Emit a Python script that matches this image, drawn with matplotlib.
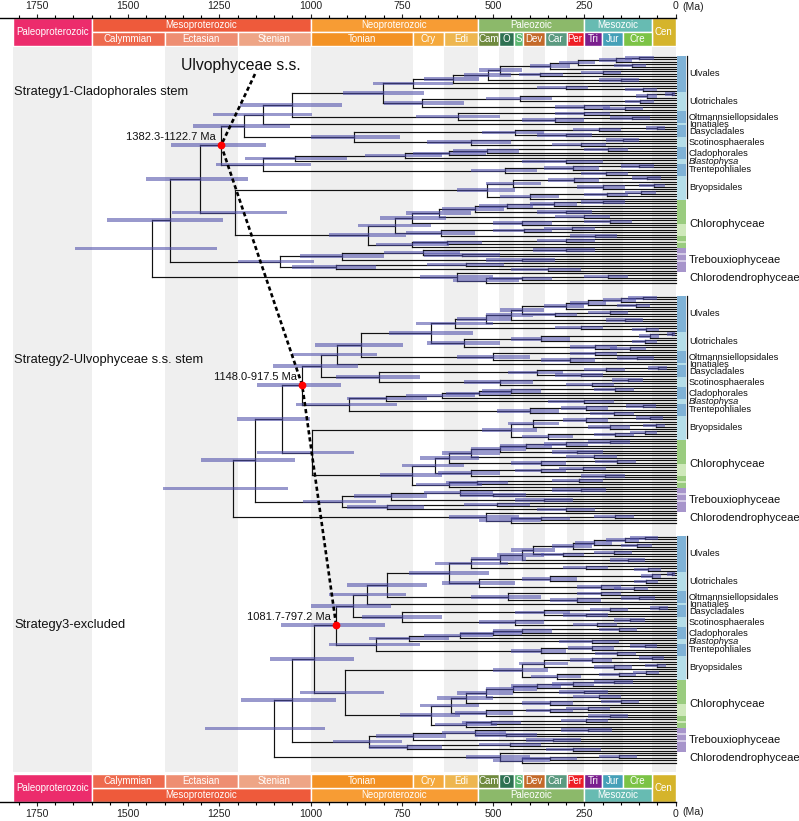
import re
import numpy as np
import matplotlib
matplotlib.use("Agg")
import matplotlib.pyplot as plt
from matplotlib.collections import LineCollection
from matplotlib.patches import Rectangle

plt.rcParams['font.family'] = ['Liberation Sans', 'DejaVu Sans']

# ------------------------------------------------------------------ data
STRATEGY_LABELS = ["Strategy1-Cladophorales stem", "Strategy2-Ulvophyceae s.s. stem", "Strategy3-excluded"]
RED_LABELS = ["1382.3-1122.7 Ma", "1148.0-917.5 Ma", "1081.7-797.2 Ma"]

# backbone per strategy: node label = age/HPDlow/HPDhigh (Ma), R = Ulvophyceae s.s. node
BACKBONE = [
    "((((((((ULV,ULO)802/690/910,OLT)1052/913/1193,IGN)1130/996/1267,(DAS,SCO)880/755/1000)1182/1056/1322,((CLA,BLA)1043/900/1180,TRE)1130/1000/1260)1245/1122.7/1382.3/R,(BRY,CHL)1207/1065/1380)1302/1171/1450,TRB)1385/1240/1558,CHD)1434/1257/1645",
    "((((((((ULV,ULO)670/555/785,OLT)863/747/988,IGN)929/819/1052,(DAS,SCO)812/700/930)972/870/1102,((CLA,BLA)793/680/900,TRE)894/764/1040)1023/917.5/1148.0/R,(BRY,CHL)995/880/1146)1077/1002/1201,TRB)1152/1043/1301,CHD)1212/1062/1405",
    "((((((((ULV,ULO)620/510/730,OLT)790/680/900,IGN)845/740/950,(DAS,SCO)750/640/860)885/780/1000,((CLA,BLA)730/620/840,TRE)820/700/950)930/797.2/1081.7/R,(BRY,CHL)905/800/1030)990/880/1110,TRB)1050/930/1190,CHD)1100/960/1290",
]

ULVALES = [
    "((((((((t,t)100/60/140,t)164/120/210,(t,t)120/80/170)267/220/320,t)344/290/400,((t,t)200/150/260,t)371/310/430)481/420/540,(t,t)150/100/210)514/450/580,t)610/540/690,(t,(t,t)90/50/140)300/240/380)720/610/830",
    "((((((((t,t)90/50/130,t)150/110/200,(t,t)110/70/160)240/190/290,t)300/250/360,((t,t)180/130/240,t)330/270/390)420/360/480,(t,t)140/90/190)450/390/520,t)520/450/600,(t,(t,t)80/45/120)260/200/330)604/500/710",
    "((((((((t,t)85/48/125,t)140/100/190,(t,t)105/65/150)225/175/275,t)280/230/340,((t,t)170/120/225,t)310/250/370)390/330/450,(t,t)130/85/180)420/360/490,t)480/410/560,(t,(t,t)75/40/115)245/185/310)560/460/660",
]
ULOTRICHALES = [
    "((((t,t)11/2/30,t)79/50/110,(t,t)98/60/140)426/340/520,(t,(t,t)140/90/200)250/180/330)696/580/800",
    "((((t,t)10/2/25,t)70/45/100,(t,t)85/50/120)370/290/450,(t,(t,t)125/80/180)220/160/290)580/480/680",
    "((((t,t)10/2/25,t)65/40/95,(t,t)80/48/115)345/270/420,(t,(t,t)115/75/170)205/150/270)540/440/640",
]
OLTMANNSIELLOPSIDALES = [
    "((t,t)250/180/330,((t,t)120/70/180,t)330/250/420)596/480/710",
    "((t,t)220/160/290,((t,t)105/60/160,t)290/220/370)500/400/600",
    "((t,t)205/150/270,((t,t)100/58/150,t)270/205/345)460/370/560",
]
IGNATIALES = ["t", "t", "t"]
DASYCLADALES = [
    "(((t,t)52/30/80,t)210/150/280,(t,t)300/230/380)440/360/530",
    "(((t,t)48/25/75,t)190/140/250,(t,t)260/200/330)380/310/460",
    "(((t,t)45/22/70,t)180/130/235,(t,t)245/185/310)360/290/440",
]
SCOTINOSPHAERALES = [
    "((t,t)143/100/190,(t,t)260/190/340)560/450/680",
    "((t,t)130/90/175,(t,t)230/170/300)480/390/580",
    "((t,t)125/85/170,(t,t)215/160/280)440/360/540",
]
CLADOPHORALES = [
    "((((t,t)185/130/250,t)518/430/610,t)620/520/720,t)741/640/850",
    "((((t,t)165/115/225,t)450/370/530,t)540/450/630,t)640/550/740",
    "((((t,t)155/105/210,t)420/340/500,t)500/420/590,t)590/500/690",
]
BLASTOPHYSA = ["(t,t)300/200/420", "(t,t)250/170/350", "(t,t)230/155/320"]
TRENTEPOHLIALES = [
    "(((t,t)100/60/150,t)280/210/360,(t,t)190/130/260)468/380/560",
    "(((t,t)90/55/135,t)245/185/315,(t,t)170/115/235)400/320/490",
    "(((t,t)85/50/125,t)230/170/295,(t,t)160/110/220)370/300/450",
]
BRYOPSIDALES = [
    "((((t,t)78/40/120,t)278/210/350,((t,t)60/30/100,t)200/140/270)446/370/520,(((t,t)94/55/140,t)188/130/250,t)400/320/480)518/440/600",
    "((((t,t)70/35/110,t)245/185/310,((t,t)55/28/90,t)180/125/240)390/320/460,(((t,t)85/50/125,t)165/115/225,t)350/280/420)450/380/530",
    "((((t,t)65/32/100,t)230/175/290,((t,t)52/26/85,t)170/120/225)360/295/430,(((t,t)80/47/118,t)155/108/210,t)325/260/395)420/350/500",
]
CHLOROPHYCEAE = [
    "((((((((t,t)199/140/260,t)333/270/400,t)462/390/540,(t,t)300/230/380)550/470/640,(t,t)250/180/330)648/560/740,((t,t)180/120/250,t)420/340/500)723/630/810,(((t,t)285/220/360,t)415/340/500,(t,t)220/160/290)644/550/740)769/670/870,(((t,t)300/220/380,t)627/530/720,t)723/620/820)844/740/950",
    "((((((((t,t)180/125/240,t)300/240/360,t)410/340/480,(t,t)270/200/340)480/410/560,(t,t)225/160/300)560/480/640,((t,t)160/110/220,t)370/300/450)620/540/700,(((t,t)255/190/320,t)370/300/440,(t,t)195/140/260)560/480/650)660/580/750,(((t,t)265/200/340,t)545/460/630,t)620/530/710)722/640/810",
    "((((((((t,t)170/118/225,t)280/225/340,t)380/315/450,(t,t)250/185/320)445/380/520,(t,t)210/150/280)520/445/600,((t,t)150/100/205,t)345/280/420)575/500/655,(((t,t)240/180/300,t)345/280/410,(t,t)180/130/240)520/445/605)615/540/700,(((t,t)245/185/315,t)505/425/585,t)575/490/660)670/590/755",
]
TREBOUXIOPHYCEAE = [
    "((((t,t)300/220/390,(t,t)585/480/690)692/590/800,(t,t)420/330/520)913/800/1030,((t,t)574/470/680,(t,t)350/260/450)931/820/1050)1084/990/1200",
    "((((t,t)260/190/340,(t,t)500/410/590)590/500/690,(t,t)360/280/440)780/680/880,((t,t)490/400/580,(t,t)300/220/380)790/690/900)915/820/1020",
    "((((t,t)240/175/315,(t,t)465/380/550)550/465/640,(t,t)335/260/410)720/630/820,((t,t)455/370/540,(t,t)280/205/355)735/640/840)840/750/940",
]
CHLORODENDROPHYCEAE = [
    "(t,(((t,t)185/130/250,t)422/340/510,t)520/430/610)600/500/700",
    "(t,(((t,t)165/115/225,t)370/290/450,t)450/370/540)520/430/620",
    "(t,(((t,t)155/105/210,t)345/270/420,t)420/345/500)480/400/575",
]

CLADE_KEYS = ["ULV", "ULO", "OLT", "IGN", "DAS", "SCO", "CLA", "BLA", "TRE", "BRY", "CHL", "TRB", "CHD"]
CLADE_NAMES = ["Ulvales", "Ulotrichales", "Oltmannsiellopsidales", "Ignatiales", "Dasycladales",
               "Scotinosphaerales", "Cladophorales", "Blastophysa", "Trentepohliales", "Bryopsidales",
               "Chlorophyceae", "Trebouxiophyceae", "Chlorodendrophyceae"]
CHL_STRIP_SPLIT = [10, 5, 2, 1, 2]
TRB_STRIP_SPLIT = [2, 1, 2, 1, 4]

ERA_NAMES = ["Paleoproterozoic", "Mesoproterozoic", "Neoproterozoic", "Paleozoic", "Mesozoic", "Cen"]
ERA_START = [1815, 1600, 1000, 541, 252, 66]
ERA_END = [1600, 1000, 541, 252, 66, 0]
ERA_COLORS = ["#EC2C6C", "#EE5A3B", "#F79C34", "#8CB96A", "#67BBB2", "#D5B42B"]
PERIOD_NAMES = ["Calymmian", "Ectasian", "Stenian", "Tonian", "Cry", "Edi", "Cam", "O", "S",
                "Dev", "Car", "Per", "Tri", "Jur", "Cre"]
PERIOD_START = [1600, 1400, 1200, 1000, 720, 635, 541, 485, 443, 419, 359, 299, 252, 201, 145]
PERIOD_END = [1400, 1200, 1000, 720, 635, 541, 485, 443, 419, 359, 299, 252, 201, 145, 66]
PERIOD_COLORS = ["#EE6A4E", "#EE8E72", "#EEA586", "#F39224", "#F5A93C", "#EEB64F", "#6F8A3E",
                 "#2E7152", "#5DB873", "#C46A2A", "#5B9A80", "#EE1E26", "#7A1F8E", "#45A0B8", "#7CC346"]

# ------------------------------------------------------------------ tree helpers
CLADES = {"ULV": ULVALES, "ULO": ULOTRICHALES, "OLT": OLTMANNSIELLOPSIDALES, "IGN": IGNATIALES,
          "DAS": DASYCLADALES, "SCO": SCOTINOSPHAERALES, "CLA": CLADOPHORALES, "BLA": BLASTOPHYSA,
          "TRE": TRENTEPOHLIALES, "BRY": BRYOPSIDALES, "CHL": CHLOROPHYCEAE, "TRB": TREBOUXIOPHYCEAE,
          "CHD": CHLORODENDROPHYCEAE}


def parse(s):
    pos = [0]

    def label():
        m = re.match(r'[^,();]*', s[pos[0]:])
        pos[0] += len(m.group(0))
        return m.group(0)

    def node():
        if s[pos[0]] == '(':
            pos[0] += 1
            kids = [node()]
            while s[pos[0]] == ',':
                pos[0] += 1
                kids.append(node())
            pos[0] += 1  # ')'
            p = label().split('/')
            return dict(kids=kids, age=float(p[0]), lo=float(p[1]), hi=float(p[2]), red=len(p) > 3)
        label()
        return dict(kids=[], age=0.0)
    return node()


def layout(n, counter, off):
    if not n['kids']:
        n['y'] = off + counter[0]
        counter[0] += 1
    else:
        for c in n['kids']:
            layout(c, counter, off)
        n['y'] = 0.5 * (n['kids'][0]['y'] + n['kids'][-1]['y'])


def collect(n, segs, bars, reds, parent_age=None):
    if parent_age is not None:
        segs.append([(parent_age, n['y']), (n['age'], n['y'])])
    if n['kids']:
        segs.append([(n['age'], n['kids'][0]['y']), (n['age'], n['kids'][-1]['y'])])
        bars.append((n['lo'], n['hi'], n['y']))
        if n['red']:
            reds.append((n['age'], n['y']))
        for c in n['kids']:
            collect(c, segs, bars, reds, n['age'])


# ------------------------------------------------------------------ figure
W, H = 799, 821
PX_PER_MA = 0.3651
X0 = 675.7
XLEFT = X0 / PX_PER_MA
XRIGHT = -(W - X0) / PX_PER_MA
TIP0 = 57.0
TIPSP = 2.4
TREE_OFF = 100

fig = plt.figure(figsize=(W / 100, H / 100), dpi=100)
ax = fig.add_axes([0, (H - 772) / H, 1, 725 / H])
ax.set_xlim(XLEFT, XRIGHT)
ax.set_ylim((772 - TIP0) / TIPSP, (47 - TIP0) / TIPSP)
ax.axis('off')

# alternating grey bands
bounds = [(ERA_START[0], ERA_END[0])] + list(zip(PERIOD_START, PERIOD_END)) + [(ERA_START[-1], ERA_END[-1])]
for i, (s, e) in enumerate(bounds):
    if i % 2 == 0:
        ax.axvspan(e, s, color='#EFEFEF', lw=0, zorder=0)

UL_DARK, UL_LIGHT = '#7FB2D6', '#B5DEE9'
CH_DARK, CH_LIGHT = '#9ACC7F', '#CFE9BB'
TR_DARK, TR_LIGHT = '#A795CB', '#D4CCE6'

red_pts = []
for k in range(3):
    s = re.sub(r'[A-Z]{3}', lambda m: CLADES[m.group(0)][k], BACKBONE[k])
    root = parse(s)
    off = k * TREE_OFF
    layout(root, [0], off)
    segs, bars, reds = [], [], []
    collect(root, segs, bars, reds)
    ax.add_collection(LineCollection(segs, colors='#111111', linewidths=0.85, zorder=2,
                                     capstyle='projecting'))
    lo = np.array([b[0] for b in bars])
    hi = np.array([b[1] for b in bars])
    yy = np.array([b[2] for b in bars])
    ax.barh(yy, hi - lo, left=lo, height=1.5, color='#4F4FAA', alpha=0.58, lw=0, zorder=3)
    red_pts.append(reds[0])

    # clade strips and labels
    start = off
    for ci, key in enumerate(CLADE_KEYS):
        n = CLADES[key][k].count('t')
        if key == 'CHL':
            splits, cols = CHL_STRIP_SPLIT, [CH_DARK, CH_LIGHT]
        elif key == 'TRB':
            splits, cols = TRB_STRIP_SPLIT, [TR_DARK, TR_LIGHT]
        elif key == 'CHD':
            splits, cols = [], []
        else:
            splits, cols = [n], [UL_DARK if ci % 2 == 0 else UL_LIGHT]
        y0 = start
        for j, sp in enumerate(splits):
            ax.add_patch(Rectangle((-28.2, y0 - 0.5), 25.5, sp, fc=cols[j % 2], ec='none', zorder=2))
            y0 += sp
        big = key in ('CHL', 'TRB', 'CHD')
        ax.text(-36.4, start + (n - 1) / 2, CLADE_NAMES[ci], fontsize=8.1 if big else 6.7,
                ha='left', va='center', style='italic' if key == 'BLA' else 'normal', color='#111111')
        if key == 'ULV':
            ulv_start = start
        if key == 'BRY':
            bry_end = start + n - 1
        start += n
    ax.plot([-31.8, -31.8], [ulv_start - 0.4, bry_end - 0.4], color='#111111', lw=0.9, zorder=2)

    ax.text(XLEFT - 14 / PX_PER_MA, [14.6, 126.3, 236.7][k], STRATEGY_LABELS[k], fontsize=9.3,
            ha='left', va='center', color='#111111')
    ax.annotate(RED_LABELS[k], reds[0], xytext=(-4.0, 6), textcoords='offset points',
                ha='right', va='center', fontsize=8, color='#111111', zorder=7)

# dashed connector through Ulvophyceae s.s. nodes
top_pt = ((X0 - 255) / PX_PER_MA, (74 - TIP0) / TIPSP)
pts = [top_pt] + red_pts
ax.plot([p[0] for p in pts], [p[1] for p in pts], color='black', lw=1.9,
        linestyle=(0, (1.6, 1.1)), zorder=5)
ax.plot([p[0] for p in red_pts], [p[1] for p in red_pts], 'o', color='#FF0000', ms=5.6,
        mec='none', zorder=6)
ax.text((X0 - 241) / PX_PER_MA, (65 - TIP0) / TIPSP, "Ulvophyceae s.s.", fontsize=11.3,
        ha='center', va='center', color='#111111')


# ------------------------------------------------------------------ timescales
def draw_scale(a, top):
    a.set_xlim(XLEFT, 0)
    a.set_ylim(0, 2)
    era_y, per_y = (1, 0) if top else (0, 1)
    for name, s, e, c in zip(ERA_NAMES, ERA_START, ERA_END, ERA_COLORS):
        full = name in ("Paleoproterozoic", "Cen")
        y0, h = (0, 2) if full else (era_y, 1)
        a.add_patch(Rectangle((e, y0), s - e, h, fc=c, ec='white', lw=1))
        a.text((s + e) / 2, y0 + h / 2, name, color='white', ha='center', va='center', fontsize=7.0)
    for name, s, e, c in zip(PERIOD_NAMES, PERIOD_START, PERIOD_END, PERIOD_COLORS):
        a.add_patch(Rectangle((e, per_y), s - e, 1, fc=c, ec='white', lw=1))
        a.text((s + e) / 2, per_y + 0.5, name, color='white', ha='center', va='center', fontsize=7.0)
    for sp in a.spines.values():
        sp.set_visible(False)
    side = 'top' if top else 'bottom'
    a.spines[side].set_visible(True)
    a.spines[side].set_linewidth(1.0)
    a.set_yticks([])
    a.set_xticks(np.arange(0, 1751, 250))
    a.set_xticks(np.arange(0, 1801, 50), minor=True)
    a.set_xticklabels([str(v) for v in np.arange(0, 1751, 250)])
    if top:
        a.xaxis.tick_top()
    else:
        a.xaxis.tick_bottom()
    a.tick_params(axis='x', which='major', length=3.2, width=0.8, labelsize=7.6, pad=1.5,
                  colors='#222222')
    a.tick_params(axis='x', which='minor', length=2.0, width=0.8)
    a.text(1 + 7 / X0, (1 + 11 / 28) if top else (-10 / 28), "(Ma)", transform=a.transAxes,
           ha='left', va='center', fontsize=7.6, color='#222222')


ax_top = fig.add_axes([0, (H - 46) / H, X0 / W, 28 / H])
draw_scale(ax_top, True)
ax_bot = fig.add_axes([0, (H - 802) / H, X0 / W, 28 / H])
draw_scale(ax_bot, False)

fig.savefig("out.png", dpi=100)
